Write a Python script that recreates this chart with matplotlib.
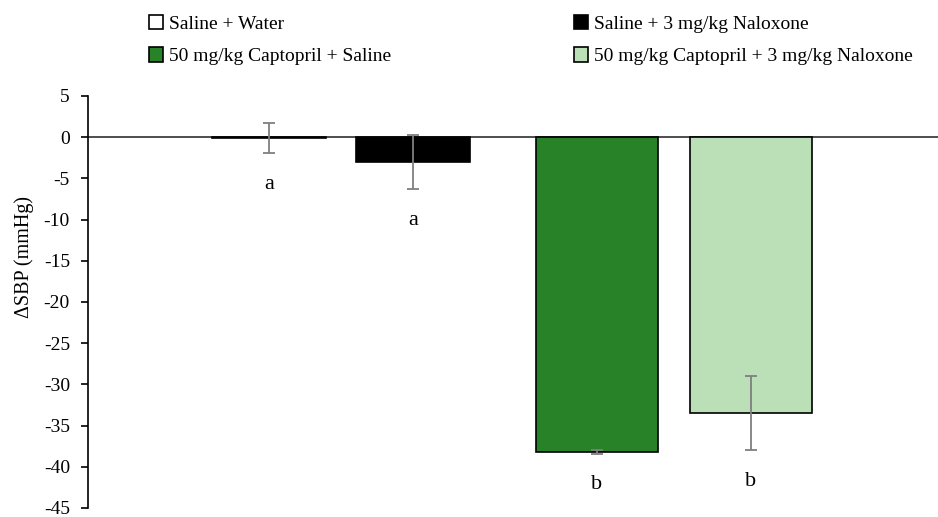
import matplotlib.pyplot as plt
from matplotlib.patches import Patch

plt.rcParams['font.family'] = ['Liberation Serif', 'DejaVu Serif']
plt.rcParams['axes.unicode_minus'] = False

groups = ["Saline + Water", "Saline + 3 mg/kg Naloxone",
          "50 mg/kg Captopril + Saline", "50 mg/kg Captopril + 3 mg/kg Naloxone"]
delta_sbp = [-0.1, -3.0, -38.2, -33.5]
sem = [1.8, 3.3, 0.2, 4.5]
letters = ["a", "a", "b", "b"]
colors = ["white", "black", "#288228", "#bbdfb7"]

# bar layout (x positions and widths in axis units)
xpos = [1.257, 2.257, 3.535, 4.604]
widths = [0.79, 0.79, 0.85, 0.85]

fig = plt.figure(figsize=(9.38, 5.17), dpi=100)
ax = fig.add_axes([88 / 938, 1 - 508 / 517, 1 - 88 / 938, (508 - 96) / 517])

ax.bar(xpos, delta_sbp, width=widths, color=colors, edgecolor="black",
       linewidth=1.2, zorder=2)
ax.errorbar(xpos, delta_sbp, yerr=sem, fmt="none", ecolor="#7f7f7f",
            elinewidth=1.3, capsize=4, capthick=1.3, zorder=3)

for x, v, e, t in zip(xpos, delta_sbp, sem, letters):
    ax.text(x, v - e - 3.8, t, ha="center", va="center", fontsize=16)

ax.axhline(0, color="#404040", linewidth=1.3, zorder=1)
ax.set_xlim(0, 850 / 144)
ax.set_ylim(-45, 5)
ax.set_yticks(range(-45, 6, 5))
ax.tick_params(axis="y", labelsize=14, direction="out", length=5, width=1.2,
               pad=8)
ax.set_xticks([])
for s in ["top", "right", "bottom"]:
    ax.spines[s].set_visible(False)
ax.spines["left"].set_linewidth(1.2)
ax.set_ylabel("ΔSBP (mmHg)", fontsize=14.5)
ax.yaxis.set_label_coords(-0.064, 0.61)

handles = [Patch(facecolor=c, edgecolor="black", linewidth=1.2) for c in colors]
order = [0, 2, 1, 3]
fig.legend([handles[i] for i in order], [groups[i] for i in order],
           ncol=2, loc="upper left", bbox_to_anchor=(131 / 938, 1.005),
           frameon=False, fontsize=14, handlelength=0.75, handleheight=0.75,
           handletextpad=0.3, columnspacing=9.4, labelspacing=0.75)

fig.savefig("out.png", dpi=100)
